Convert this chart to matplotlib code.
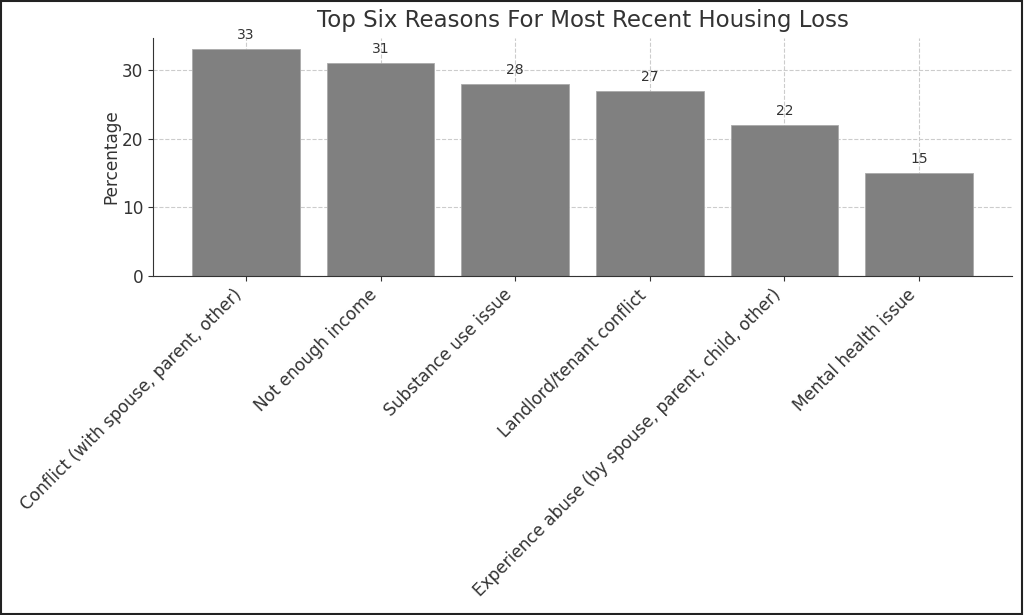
import matplotlib
matplotlib.use("Agg")
import matplotlib.pyplot as plt
from matplotlib.patches import Rectangle

reasons = [
    "Conflict (with spouse, parent, other)",
    "Not enough income",
    "Substance use issue",
    "Landlord/tenant conflict",
    "Experience abuse (by spouse, parent, child, other)",
    "Mental health issue",
]
percentages = [33, 31, 28, 27, 22, 15]

text_color = "#333333"

fig = plt.figure(figsize=(10.24, 6.15), dpi=100)
ax = fig.add_axes([0.1494, 0.5512, 0.8389, 0.3870])

x = list(range(len(reasons)))
bars = ax.bar(x, percentages, width=0.8, color="#808080", edgecolor="#aaaaaa", linewidth=0.6, zorder=2)

for b, v in zip(bars, percentages):
    ax.annotate(str(v), (b.get_x() + b.get_width() / 2, v),
                xytext=(0, 5), textcoords="offset points",
                ha="center", va="bottom", fontsize=10, color=text_color)

ax.set_xticks(x)
ax.set_xticklabels(reasons, rotation=45, ha="right", fontsize=12.2, color=text_color)
ax.tick_params(axis="y", labelsize=12.2, labelcolor=text_color, color=text_color)
ax.tick_params(axis="x", color=text_color)
ax.set_yticks([0, 10, 20, 30])
ax.set_ylabel("Percentage", fontsize=12.2, color=text_color, labelpad=1)
ax.set_title("Top Six Reasons For Most Recent Housing Loss", fontsize=16.5, color=text_color, pad=8)

ax.grid(True, linestyle="--", color="#cccccc", linewidth=0.8, zorder=0)
ax.set_axisbelow(True)
ax.spines["top"].set_visible(False)
ax.spines["right"].set_visible(False)
ax.spines["left"].set_color(text_color)
ax.spines["bottom"].set_color(text_color)

# black frame round the whole figure
fig.patches.append(Rectangle((0.001, 0.002), 0.997, 0.996, transform=fig.transFigure,
                             fill=False, edgecolor="#222222", linewidth=1.5))

fig.savefig("out.png", dpi=100)
